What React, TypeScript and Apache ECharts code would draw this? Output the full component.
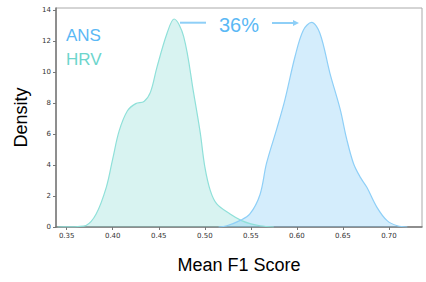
import React, { useEffect, useRef } from "react";
import * as echarts from "echarts";

const hrvCurve: [number, number][] = [
  [0.340, 0], [0.352, 0.01], [0.362, 0.03], [0.371, 0.1], [0.382, 0.84], [0.393, 2.56],
  [0.400, 4.4], [0.407, 6.2], [0.416, 7.5], [0.425, 7.96], [0.434, 8.1], [0.441, 8.7],
  [0.448, 10.3], [0.459, 12.5], [0.4666, 13.42], [0.477, 12.3], [0.488, 8.6], [0.495, 6.1],
  [0.500, 3.9], [0.506, 2.35], [0.513, 1.49], [0.5275, 0.84], [0.540, 0.41], [0.550, 0.2],
  [0.560, 0.08], [0.575, 0],
];

const ansCurve: [number, number][] = [
  [0.515, 0], [0.524, 0.08], [0.538, 0.41], [0.549, 0.84], [0.560, 2.1], [0.567, 4.1],
  [0.578, 6.3], [0.587, 8.2], [0.598, 11.0], [0.607, 12.7], [0.616, 13.2], [0.625, 12.5],
  [0.636, 9.9], [0.647, 7.6], [0.654, 5.7], [0.6615, 4.1], [0.669, 3.2], [0.676, 2.56],
  [0.687, 1.27], [0.698, 0.41], [0.709, 0.08], [0.72, 0],
];

const xTicks = [0.35, 0.4, 0.45, 0.5, 0.55, 0.6, 0.65, 0.7];
const yTicks = [0, 2, 4, 6, 8, 10, 12, 14];
const seriesNames = ["ANS", "HRV"];
const annotation = "36%";

export default function App() {
  const ref = useRef<HTMLDivElement>(null);
  useEffect(() => {
    document.body.style.margin = "0";
    const chart = echarts.init(ref.current!, null, { renderer: "svg" });
    const tickFont = { fontFamily: "DejaVu Sans", fontSize: 7, color: "#333" };
    chart.setOption({
      animation: false,
      grid: {
        left: 56, top: 8, right: 4, bottom: 55,
        show: true, borderColor: "#aaa", borderWidth: 1, backgroundColor: "transparent",
      },
      xAxis: {
        type: "value", min: 0.3384, max: 0.7359,
        splitLine: { show: false },
        axisLine: { show: true, onZero: false, lineStyle: { color: "#777", width: 1.5 } },
        axisTick: { show: true, customValues: xTicks, length: 3, lineStyle: { color: "#777" } },
        axisLabel: { customValues: xTicks, formatter: (v: number) => v.toFixed(2), margin: 5, ...tickFont },
        name: "Mean F1 Score", nameLocation: "middle", nameGap: 29,
        nameTextStyle: { fontFamily: "Liberation Sans", fontSize: 18, color: "#000" },
      },
      yAxis: {
        type: "value", min: 0, max: 14.13,
        splitLine: { show: false },
        axisLine: { show: true, lineStyle: { color: "#777", width: 1.5 } },
        axisTick: { show: true, customValues: yTicks, length: 3, lineStyle: { color: "#777" } },
        axisLabel: { customValues: yTicks, margin: 5, ...tickFont },
        name: "Density", nameLocation: "middle", nameGap: 26, nameRotate: 90,
        nameTextStyle: { fontFamily: "Liberation Sans", fontSize: 18, color: "#000" },
      },
      series: [
        {
          name: seriesNames[1], type: "line", data: hrvCurve, smooth: 0.35,
          symbol: "none", lineStyle: { color: "#8fe0d9", width: 1.2 },
          areaStyle: { color: "#7fd8d0", opacity: 0.3 },
        },
        {
          name: seriesNames[0], type: "line", data: ansCurve, smooth: 0.35,
          symbol: "none", lineStyle: { color: "#8ecff7", width: 1.2 },
          areaStyle: { color: "#72c2f5", opacity: 0.3 },
        },
      ],
      graphic: [
        { type: "text", left: 66, top: 27, style: { text: seriesNames[0], fontFamily: "Liberation Sans", fontSize: 17, fill: "#5ab8f5" } },
        { type: "text", left: 66, top: 51, style: { text: seriesNames[1], fontFamily: "Liberation Sans", fontSize: 17, fill: "#6dd5cc" } },
        { type: "text", x: 239, y: 25, style: { text: annotation, fontFamily: "Liberation Sans", fontSize: 20, fill: "#5ab8f5", align: "center", verticalAlign: "middle" } },
        { type: "line", shape: { x1: 180, y1: 22.7, x2: 206, y2: 22.7 }, style: { stroke: "#8ecff7", lineWidth: 2 } },
        { type: "line", shape: { x1: 272, y1: 23, x2: 294, y2: 23 }, style: { stroke: "#8ecff7", lineWidth: 2 } },
        { type: "polygon", shape: { points: [[293, 20], [299, 23], [293, 26]] }, style: { fill: "#8ecff7" } },
      ],
    });
    return () => chart.dispose();
  }, []);
  return <div ref={ref} style={{ width: 426, height: 282 }} />;
}
